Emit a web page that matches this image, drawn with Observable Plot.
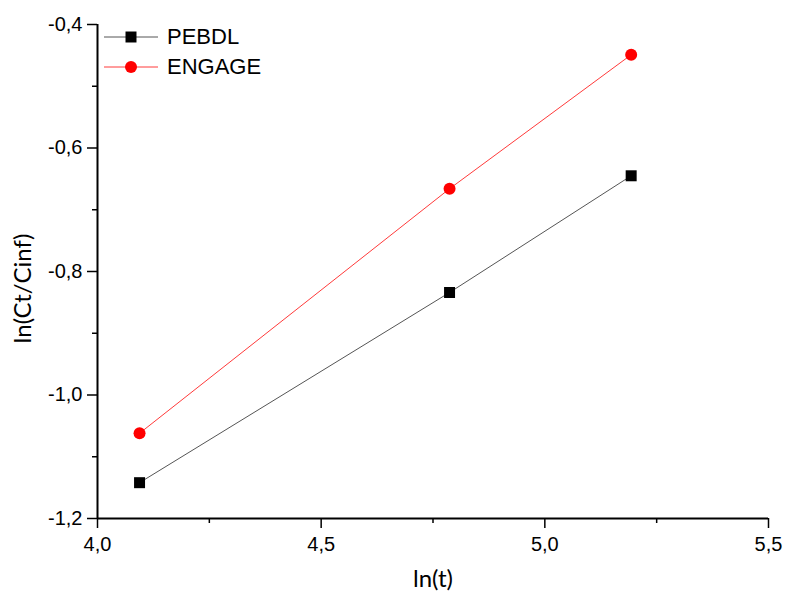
<!DOCTYPE html>
<html>
<head>
<meta charset="utf-8">
<script src="https://cdn.jsdelivr.net/npm/d3@7"></script>
<script src="https://cdn.jsdelivr.net/npm/@observablehq/plot@0.6"></script>
<style>
  html, body { margin: 0; padding: 0; background: #fff; }
  #wrap { position: relative; width: 785px; height: 592px; }
  #wrap svg { font-family: "Liberation Sans", Arial, sans-serif; }
  #legend { position: absolute; left: 104px; top: 22px; font-family: "Liberation Sans", Arial, sans-serif; font-size: 22px; color: #000; }
  #legend .row { display: flex; align-items: center; height: 30px; }
  #legend .row svg { margin-right: 9px; }
</style>
</head>
<body>
<div id="wrap"><div id="legend"></div></div>
<script>
const lnT = [4.094, 4.787, 5.193];
const pebdl = [-1.142, -0.834, -0.645];
const engage = [-1.062, -0.666, -0.449];
const seriesNames = ["PEBDL", "ENGAGE"];
const xMajor = [4.0, 4.5, 5.0, 5.5];
const xMinor = [4.25, 4.75, 5.25];
const yMajor = [-1.2, -1.0, -0.8, -0.6, -0.4];
const yMinor = [-1.1, -0.9, -0.7, -0.5];
const xTitle = "ln(t)";
const yTitle = "ln(Ct/Cinf)";

const styles = {
  PEBDL: {line: "#555555", fill: "#000000", symbol: "square", r: 6.2},
  ENGAGE: {line: "#ff3a3a", fill: "#ff0000", symbol: "circle", r: 6}
};

const rows = [];
lnT.forEach((x, i) => {
  rows.push({series: "PEBDL", x, y: pebdl[i]});
  rows.push({series: "ENGAGE", x, y: engage[i]});
});

const fmt = d => d3.format(".1f")(d).replace("−", "-").replace(".", ",");
const titleFont = "Lato, 'Open Sans', sans-serif";

const marks = [
  Plot.axisX(xMajor, {tickSize: 10, tickPadding: 8, tickFormat: fmt, fontSize: 20, stroke: "#000", strokeWidth: 1.5, label: null, fill: "#000"}),
  Plot.axisX(xMinor, {tickSize: 5, tickFormat: () => "", stroke: "#000", strokeWidth: 1.5, label: null}),
  Plot.axisY(yMajor, {tickSize: 10, tickPadding: 5, tickFormat: fmt, fontSize: 20, stroke: "#000", strokeWidth: 1.5, label: null, fill: "#000"}),
  Plot.axisY(yMinor, {tickSize: 5, tickFormat: () => "", stroke: "#000", strokeWidth: 1.5, label: null}),
  Plot.ruleY([yMajor[0]], {stroke: "#000", strokeWidth: 2}),
  Plot.ruleX([xMajor[0]], {stroke: "#000", strokeWidth: 2}),
  Plot.text([xTitle], {frameAnchor: "bottom", lineAnchor: "middle", dy: 61, fontSize: 24, fontFamily: titleFont, fill: "#000"}),
  Plot.text([yTitle], {frameAnchor: "left", textAnchor: "middle", lineAnchor: "middle", dx: -74, dy: 17, rotate: -90, fontSize: 24, fontFamily: titleFont, fill: "#000"})
];
seriesNames.forEach(name => {
  const s = styles[name];
  const data = rows.filter(d => d.series === name);
  marks.push(Plot.line(data, {x: "x", y: "y", stroke: s.line, strokeWidth: 1}));
  marks.push(Plot.dot(data, {x: "x", y: "y", symbol: s.symbol, r: s.r, fill: s.fill, stroke: "none"}));
});

const chart = Plot.plot({
  width: 785,
  height: 592,
  marginLeft: 97,
  marginRight: 17,
  marginTop: 24,
  marginBottom: 74,
  x: {domain: [4.0, 5.5], axis: null},
  y: {domain: [-1.2, -0.4], axis: null},
  marks,
  style: {fontFamily: "'Liberation Sans', Arial, sans-serif", fontSize: "20px", background: "#fff"}
});
const wrap = document.getElementById("wrap");
wrap.insertBefore(chart, wrap.firstChild);

// legend
const legend = d3.select("#legend");
seriesNames.forEach(name => {
  const s = styles[name];
  const row = legend.append("div").attr("class", "row");
  const svg = row.append("svg").attr("width", 54).attr("height", 20);
  svg.append("line").attr("x1", 0).attr("x2", 54).attr("y1", 10).attr("y2", 10)
    .attr("stroke", s.line).attr("stroke-width", 1);
  svg.append("path").attr("transform", "translate(27,10)")
    .attr("d", d3.symbol(s.symbol === "square" ? d3.symbolSquare : d3.symbolCircle, s.r * s.r * Math.PI)())
    .attr("fill", s.fill);
  row.append("span").text(name);
});
</script>
</body>
</html>
